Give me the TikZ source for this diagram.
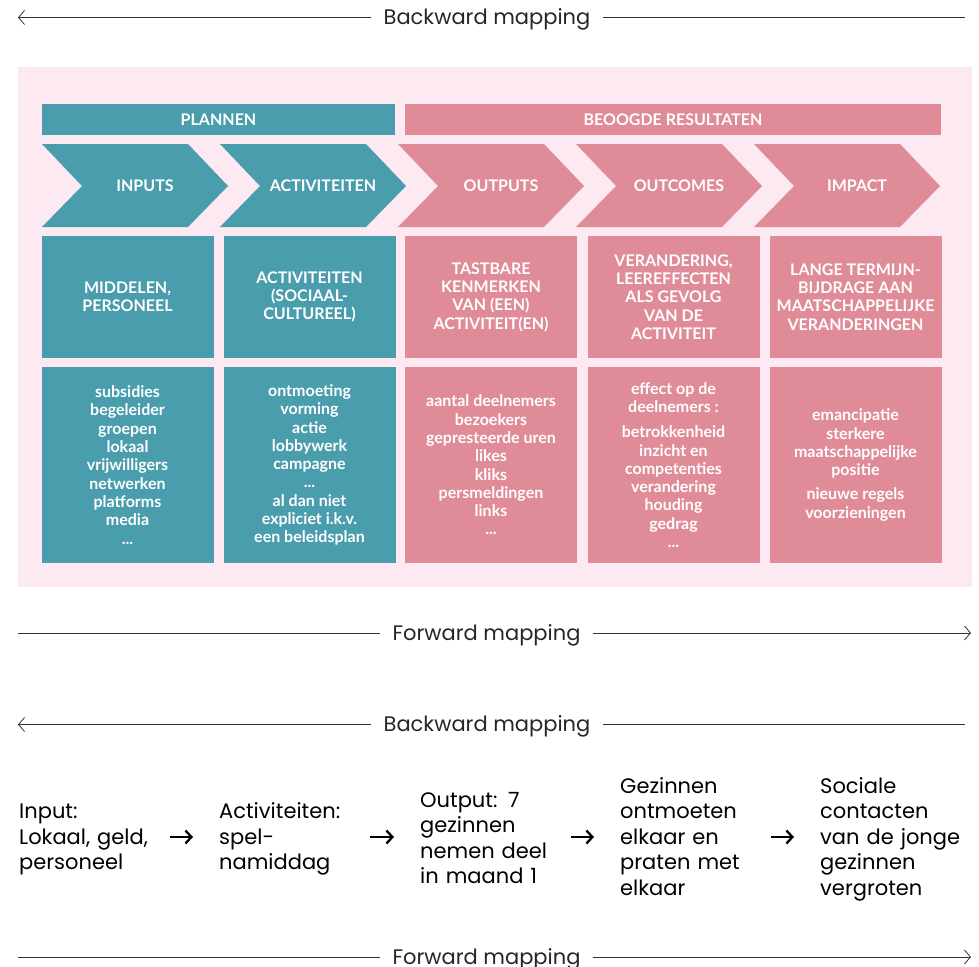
\documentclass[tikz,border=0pt]{standalone}
\usepackage{fontspec}
\setmainfont{Lato}
\newfontfamily\mapfont[Numbers=Proportional]{Poppins}
\usetikzlibrary{arrows.meta}
\definecolor{planblue}{HTML}{4A9DAC}
\definecolor{resultpink}{HTML}{E08B98}
\definecolor{bgpink}{HTML}{FCE9F1}

\begin{document}
\begin{tikzpicture}[x=1pt,y=-1pt,
  boxtext/.style={text=white,font=\bfseries\fontsize{16}{18.3}\selectfont,align=center,inner sep=0pt},
  headbar/.style={boxtext,minimum height=31pt},
  cellbox/.style={boxtext,minimum width=172pt},
  maplabel/.style={font=\mapfont\fontsize{21}{24}\selectfont,text=black!85,anchor=base,inner xsep=12pt},
  mapline/.style={draw=black!80,line width=0.8pt},
  maptip/.tip={Straight Barb[length=6pt,width=14pt]},
  flowtext/.style={font=\mapfont\fontsize{21}{25.5}\selectfont,align=left,anchor=base west,inner sep=0pt,text width=149pt},
  flowarrow/.style={line width=2.3pt,-{Straight Barb[length=6pt,width=13pt]},shorten <=2pt,shorten >=26pt}]
\useasboundingbox (0,0) rectangle (979,966);
% backward mapping (top):
\node[maplabel] (bwdtop) at (487,24.5) {Backward mapping};
\coordinate (bwdtopL) at (18,17.5);
\coordinate (bwdtopR) at (965,17.5);
\draw[mapline,maptip-] (bwdtopL) -- (bwdtopL -| bwdtop.west);
\draw[mapline] (bwdtopR -| bwdtop.east) -- (bwdtopR);
% pink panel:
\path[fill=bgpink] (18,67) rectangle (972,587);
\node[headbar,fill=planblue,minimum width=353pt] (plannen) at (218.5,119.5) {PLANNEN};
\node[headbar,fill=resultpink,minimum width=536pt] (beoogd) at (673,119.5) {BEOOGDE RESULTATEN};
% chevrons:
\foreach \x/\lbl/\col [count=\i] in {42/INPUTS/planblue,220/ACTIVITEITEN/planblue,398/OUTPUTS/resultpink,576/OUTCOMES/resultpink,754/IMPACT/resultpink}{
  \path[fill=\col] (\x,144) -- ++(146,0) -- ++(40,42) -- ++(-40,41) -- ++(-146,0) -- ++(40,-41) -- cycle;
  \node[boxtext] (chev\i) at (\x+103,186) {\lbl};
}
% first row of boxes:
\node[cellbox,fill=planblue,minimum height=122pt] (what1) at (127.5,297) {MIDDELEN,\\PERSONEEL};
\node[cellbox,fill=planblue,minimum height=122pt] (what2) at (309.5,297) {ACTIVITEITEN\\(SOCIAAL-\\CULTUREEL)};
\node[cellbox,fill=resultpink,minimum height=122pt] (what3) at (491,297) {TASTBARE\\KENMERKEN\\VAN (EEN)\\ACTIVITEIT(EN)};
\node[cellbox,fill=resultpink,minimum height=122pt] (what4) at (673.5,297) {VERANDERING,\\LEEREFFECTEN\\ALS GEVOLG\\VAN DE\\ACTIVITEIT};
\node[cellbox,fill=resultpink,minimum height=122pt] (what5) at (855.5,297) {LANGE TERMIJN-\\BIJDRAGE AAN\\MAATSCHAPPELIJKE\\VERANDERINGEN};
% second row of boxes:
\node[cellbox,fill=planblue,minimum height=196pt] (ex1) at (127.5,465) {subsidies\\begeleider\\groepen\\lokaal\\vrijwilligers\\netwerken\\platforms\\media\\...};
\node[cellbox,fill=planblue,minimum height=196pt] (ex2) at (309.5,465) {ontmoeting\\vorming\\actie\\lobbywerk\\campagne\\...\\al dan niet\\expliciet i.k.v.\\een beleidsplan};
\node[cellbox,fill=resultpink,minimum height=196pt] (ex3) at (491,465) {aantal deelnemers\\bezoekers\\gepresteerde uren\\likes\\kliks\\persmeldingen\\links\\...};
\node[cellbox,fill=resultpink,minimum height=196pt] (ex4) at (673.5,465) {effect op de\\deelnemers :\\[7pt]betrokkenheid\\inzicht en\\competenties\\verandering\\houding\\gedrag\\...};
\node[cellbox,fill=resultpink,minimum height=196pt] (ex5) at (855.5,465) {emancipatie\\sterkere\\maatschappelijke\\positie\\[6pt]nieuwe regels\\voorzieningen};
% forward mapping (top):
\node[maplabel] (fwdtop) at (486.5,640.5) {Forward mapping};
\coordinate (fwdtopL) at (18,633);
\coordinate (fwdtopR) at (971,633);
\draw[mapline] (fwdtopL) -- (fwdtopL -| fwdtop.west);
\draw[mapline,-maptip] (fwdtopR -| fwdtop.east) -- (fwdtopR);
% backward mapping (bottom):
\node[maplabel] (bwdbot) at (487,731.5) {Backward mapping};
\coordinate (bwdbotL) at (18,724.5);
\coordinate (bwdbotR) at (965,724.5);
\draw[mapline,maptip-] (bwdbotL) -- (bwdbotL -| bwdbot.west);
\draw[mapline] (bwdbotR -| bwdbot.east) -- (bwdbotR);
% example chain:
\node[flowtext] (input) at (19,818.5) {Input:\\Lokaal, geld,\\personeel};
\node[flowtext] (activ) at (219,818.5) {Activiteiten:\\spel-\\namiddag};
\node[flowtext] (output) at (420,807) {Output: 7\\gezinnen\\nemen deel\\in maand 1};
\node[flowtext] (effect) at (620,793) {Gezinnen\\ontmoeten\\elkaar en\\praten met\\elkaar};
\node[flowtext] (impact) at (820,793) {Sociale\\contacten\\van de jonge\\gezinnen\\vergroten};
\coordinate (flowrow) at (0,837);
\draw[flowarrow] (input.east |- flowrow) -- (activ.west |- flowrow);
\draw[flowarrow] (activ.east |- flowrow) -- (output.west |- flowrow);
\draw[flowarrow] (output.east |- flowrow) -- (effect.west |- flowrow);
\draw[flowarrow] (effect.east |- flowrow) -- (impact.west |- flowrow);
% forward mapping (bottom):
\node[maplabel] (fwdbot) at (486.5,964) {Forward mapping};
\coordinate (fwdbotL) at (18,957);
\coordinate (fwdbotR) at (971,957);
\draw[mapline] (fwdbotL) -- (fwdbotL -| fwdbot.west);
\draw[mapline,-maptip] (fwdbotR -| fwdbot.east) -- (fwdbotR);
\end{tikzpicture}
\end{document}
